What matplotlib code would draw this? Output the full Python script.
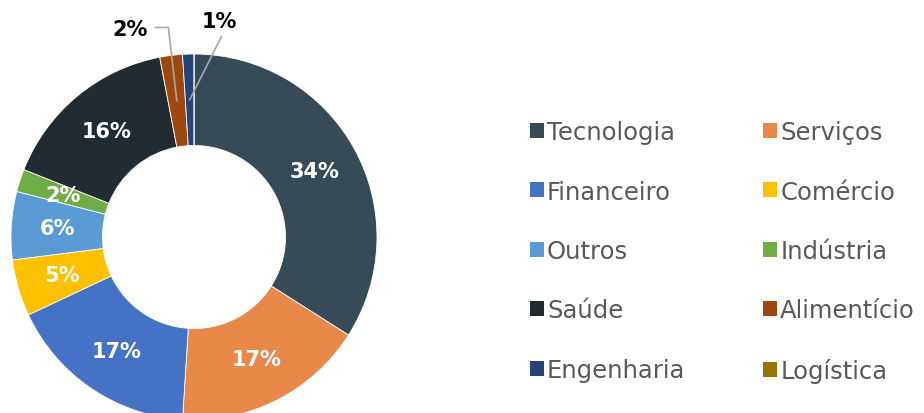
import numpy as np
import matplotlib
matplotlib.use("Agg")
import matplotlib.pyplot as plt
from matplotlib.patches import Patch

categories = ["Tecnologia", "Serviços", "Financeiro", "Comércio", "Outros",
              "Indústria", "Saúde", "Alimentício", "Engenharia", "Logística"]
values = [34, 17, 17, 5, 6, 2, 16, 2, 1, 0]
labels = ["34%", "17%", "17%", "5%", "6%", "2%", "16%", "2%", "1%", ""]
colors = ["#364B55", "#E8894A", "#4472C4", "#FFC000", "#5B9BD5",
          "#70AD47", "#212B31", "#9E480E", "#264478", "#997300"]

plt.rcParams['font.family'] = ['DejaVu Sans']

W, H = 924, 414
fig = plt.figure(figsize=(W / 100, H / 100), dpi=100)
cx, cy, R = 194, 414 - 238, 183
ax = fig.add_axes([(cx - R) / W, (cy - R) / H, 2 * R / W, 2 * R / H])

wedges, _ = ax.pie(values, colors=colors, startangle=90, counterclock=False,
                   radius=1.0, wedgeprops=dict(width=0.5, edgecolor="white", linewidth=0.6))
ax.set_xlim(-1, 1)
ax.set_ylim(-1, 1)
ax.axis("off")
for w in wedges:
    w.set_clip_on(False)

total = sum(values)
cum = 0
lab_kw = dict(ha="center", va="center", fontsize=15, fontweight="bold", clip_on=False)
for i, (v, lab) in enumerate(zip(values, labels)):
    mid = cum + v / 2
    cum += v
    if not lab:
        continue
    ang = np.deg2rad(90 - 360 * mid / total)
    r = 0.75
    px, py = r * np.cos(ang), r * np.sin(ang)
    if categories[i] == "Alimentício":
        tx, ty = -0.35, 1.135
        ax.text(tx, ty, lab, color="black", **lab_kw)
        ax.plot([tx + 0.14, tx + 0.21, px], [ty + 0.01, ty + 0.01, py],
                color="#A6A6A6", lw=1.2, clip_on=False)
    elif categories[i] == "Engenharia":
        tx, ty = 0.14, 1.18
        ax.text(tx, ty, lab, color="black", **lab_kw)
        ax.plot([tx + 0.01, px], [ty - 0.085, py],
                color="#A6A6A6", lw=1.2, clip_on=False)
    else:
        ax.text(px, py, lab, color="white", **lab_kw)

order = list(range(0, len(categories), 2)) + list(range(1, len(categories), 2))
handles = [Patch(facecolor=colors[i], edgecolor="none", label=categories[i]) for i in order]
fig.legend(handles=handles, ncol=2, loc="center left",
           bbox_to_anchor=(530 / W, (414 - 252.5) / H), frameon=False,
           fontsize=17.5, labelcolor="#595959", handlelength=0.58, handleheight=0.58,
           handletextpad=0.12, columnspacing=3.2, labelspacing=1.46, borderpad=0,
           borderaxespad=0)

fig.savefig("out.png", dpi=100)
